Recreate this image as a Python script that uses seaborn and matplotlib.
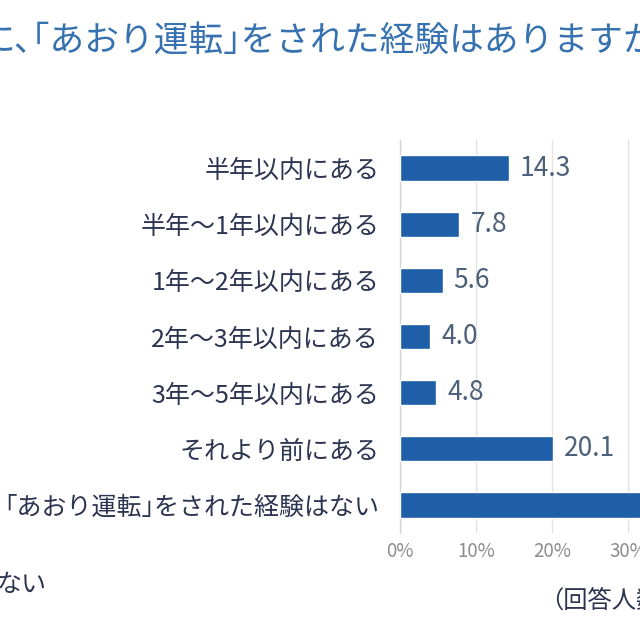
"""Horizontal bar chart: experience of tailgating (あおり運転), cropped view."""
import matplotlib
matplotlib.use("Agg")
import matplotlib.pyplot as plt
import pandas as pd
import seaborn as sns

# half-width brackets/comma mimic the proportional punctuation of the original
CATEGORIES = [
    "半年以内にある",
    "半年～1年以内にある",
    "1年～2年以内にある",
    "2年～3年以内にある",
    "3年～5年以内にある",
    "それより前にある",
    "｢あおり運転｣をされた経験はない",
]
VALUES = [14.3, 7.8, 5.6, 4.0, 4.8, 20.1, 43.4]
X_TICKS = [0, 10, 20, 30, 40, 50]
X_TICK_LABELS = ["0%", "10%", "20%", "30%", "40%", "50%"]

TITLE = "に､｢あおり運転｣をされた経験はありますか？"

BAR_COLOR = "#1f5fa8"
TITLE_COLOR = "#3671b0"
LABEL_COLOR = "#2c3452"
VALUE_COLOR = "#4d607a"
TICK_COLOR = "#8c8c8c"
GRID_COLOR = "#e2e2e2"

sns.set_theme(style="white")
plt.rcParams["font.family"] = ["Noto Sans CJK JP", "DejaVu Sans"]

df = pd.DataFrame({"category": CATEGORIES, "value": VALUES})

W, H = 640, 640
fig = plt.figure(figsize=(W / 100, H / 100), dpi=100)
# axes deliberately extend past the right edge (the reference is a crop)
ax = fig.add_axes([400 / W, 1 - 533 / H, 380 / W, (533 - 140) / H])

sns.barplot(data=df, x="value", y="category", orient="h", color=BAR_COLOR,
            width=0.45, saturation=1, ax=ax, zorder=3)

ax.set_xlim(0, 50)
ax.set_ylim(len(CATEGORIES) - 0.5, -0.5)
ax.set_xticks(X_TICKS)
ax.set_xticklabels(X_TICK_LABELS)
ax.set_xlabel("")
ax.set_ylabel("")

for s in ["top", "right", "bottom"]:
    ax.spines[s].set_visible(False)
ax.spines["left"].set_color("#d5d5d5")
ax.spines["left"].set_linewidth(1)

ax.grid(axis="x", color=GRID_COLOR, linewidth=1, zorder=0)
ax.grid(axis="y", visible=False)

ax.tick_params(axis="y", length=0, pad=15, labelsize=18, labelcolor=LABEL_COLOR)
ax.tick_params(axis="x", length=0, pad=6, labelsize=13.5, labelcolor=TICK_COLOR)
ax.set_yticks([i - 0.5 for i in range(len(CATEGORIES) + 1)], minor=True)
ax.tick_params(axis="y", which="minor", length=4, color="#d5d5d5", width=1)

for i, v in enumerate(VALUES):
    ax.annotate(f"{v:.1f}", xy=(v, i), xytext=(8, 0), textcoords="offset points",
                ha="left", va="center", fontsize=19, color=VALUE_COLOR)

# title, cropped at both sides
fig.text(-19 / W, 1 - 41 / H, TITLE, ha="left", va="center",
         fontsize=25, color=TITLE_COLOR)

# cropped footnotes
fig.text(-3 / W, 1 - 585 / H, "ない", ha="left", va="center",
         fontsize=18, color=LABEL_COLOR)
fig.text(539 / W, 1 - 601 / H, "（回答人数）", ha="left", va="center",
         fontsize=17.5, color=LABEL_COLOR)

fig.savefig("out.png", dpi=100, facecolor="white")
